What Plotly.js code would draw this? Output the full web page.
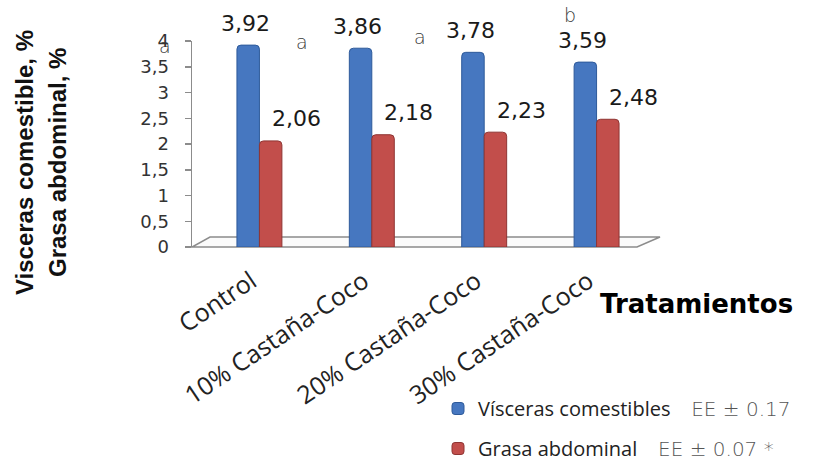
<!DOCTYPE html>
<html>
<head>
<meta charset="utf-8">
<script src="https://cdn.plot.ly/plotly-3.0.1.min.js"></script>
<style>
  html, body { margin: 0; padding: 0; background: #ffffff; }
  #chart { width: 835px; height: 461px; }
</style>
</head>
<body>
<div id="chart"></div>
<script>
// Treatments and measured values (%)
const categories = ['Control', '10% Castaña-Coco', '20% Castaña-Coco', '30% Castaña-Coco'];
const visceras = [3.92, 3.86, 3.78, 3.59];
const grasa = [2.06, 2.18, 2.23, 2.48];
const letters = ['a', 'a', 'a', 'b'];
const seriesNames = ['Vísceras comestibles', 'Grasa abdominal'];
const seriesEE = ['EE ± 0.17', 'EE ± 0.07 *'];
const yTicks = [0, 0.5, 1, 1.5, 2, 2.5, 3, 3.5, 4];

// Styling
const BLUE = '#4677C0';
const BLUE_EDGE = '#2E5A9A';
const RED = '#C24E4B';
const RED_EDGE = '#8F3533';

// Plot box in pixels: x 192..664, y 41..247
const L = 192, R = 664, T = 41, B = 247;
const px = v => (v - L) / (R - L);
const py = v => (B - v) / (B - T);

// Where each significance letter sits: shift from its group (px) and height on the page (px from top)
const letterPlacement = [
  { dx: -94, top: 46 },
  { dx: -70, top: 42 },
  { dx: -64, top: 37 },
  { dx: -27, top: 15 }
];

const fmt = v => v.toFixed(2).replace('.', ',');
const eeSpan = t => '&nbsp;&nbsp;&nbsp;&nbsp;<span style="font-family:\'DejaVu Sans\';font-weight:200;fill:#555">' + t + '</span>';

const traces = [
  {
    type: 'bar',
    x: categories,
    y: visceras,
    name: seriesNames[0] + eeSpan(seriesEE[0]),
    legendgroup: 'v',
    marker: { color: BLUE, line: { color: BLUE_EDGE, width: 1 }, cornerradius: 4 },
    hoverinfo: 'x+y'
  },
  {
    type: 'bar',
    x: categories,
    y: grasa,
    name: seriesNames[1] + eeSpan(seriesEE[1]),
    legendgroup: 'g',
    marker: { color: RED, line: { color: RED_EDGE, width: 1 }, cornerradius: 4 },
    hoverinfo: 'x+y'
  }
];

const annotations = [];
const labelFont = { family: 'DejaVu Sans', size: 22, color: '#1a1a1a' };

categories.forEach((c, i) => {
  annotations.push({
    x: c, y: visceras[i], xref: 'x', yref: 'y',
    text: fmt(visceras[i]), showarrow: false,
    xanchor: 'center', yanchor: 'middle', xshift: -14, yshift: 22,
    font: labelFont
  });
  annotations.push({
    x: c, y: grasa[i], xref: 'x', yref: 'y',
    text: fmt(grasa[i]), showarrow: false,
    xanchor: 'center', yanchor: 'middle', xshift: 37, yshift: 22,
    font: labelFont
  });
  annotations.push({
    x: c, y: py(letterPlacement[i].top), xref: 'x', yref: 'paper',
    text: letters[i], showarrow: false,
    xanchor: 'center', yanchor: 'middle', xshift: letterPlacement[i].dx,
    font: { family: 'DejaVu Sans', size: 19, color: '#3a3a3a', weight: 200 }
  });
});

// Axis titles
annotations.push({
  xref: 'paper', yref: 'paper', x: px(24), y: py(163),
  text: 'Visceras comestible, %', textangle: -90, showarrow: false,
  xanchor: 'center', yanchor: 'middle',
  font: { family: 'Liberation Sans', size: 24, color: '#111', weight: 'bold' }
});
annotations.push({
  xref: 'paper', yref: 'paper', x: px(57), y: py(163),
  text: 'Grasa abdominal, %', textangle: -90, showarrow: false,
  xanchor: 'center', yanchor: 'middle',
  font: { family: 'Liberation Sans', size: 24, color: '#111', weight: 'bold' }
});
annotations.push({
  xref: 'paper', yref: 'paper', x: px(696), y: py(304),
  text: 'Tratamientos', showarrow: false,
  xanchor: 'center', yanchor: 'middle',
  font: { family: 'DejaVu Sans', size: 26, color: '#000', weight: 'bold' }
});

// Floor of the pseudo-3D plot area
const floorPath =
  'M' + px(192) + ',' + py(247) +
  ' L' + px(637) + ',' + py(247) +
  ' L' + px(660) + ',' + py(237) +
  ' L' + px(210) + ',' + py(237) + ' Z';

const layout = {
  width: 835,
  height: 461,
  margin: { l: L, r: 835 - R, t: T, b: 461 - B, pad: 0, autoexpand: false },
  paper_bgcolor: '#ffffff',
  plot_bgcolor: 'rgba(0,0,0,0)',
  separators: ',.',
  barmode: 'group',
  bargap: 0.6,
  bargroupgap: 0,
  showlegend: true,
  legend: {
    xref: 'container', yref: 'container',
    x: 438 / 835, y: 1 - 389 / 461,
    xanchor: 'left', yanchor: 'top',
    orientation: 'v',
    traceorder: 'grouped',
    tracegroupgap: 11,
    bgcolor: 'rgba(0,0,0,0)',
    borderwidth: 0,
    font: { family: 'Open Sans', size: 20, color: '#222' }
  },
  xaxis: {
    type: 'category',
    range: [-0.6, 3.6],
    automargin: false,
    showline: false,
    showgrid: false,
    zeroline: false,
    ticks: '',
    tickangle: -34,
    ticklabelstandoff: 14,
    ticklabelshift: -8,
    tickfont: { family: 'Open Sans', size: 25, color: '#222' },
    fixedrange: true
  },
  yaxis: {
    range: [0, 4],
    automargin: false,
    tickvals: yTicks,
    ticks: 'outside',
    ticklen: 6,
    tickcolor: '#8c8c8c',
    tickwidth: 1.5,
    showline: true,
    linecolor: '#8c8c8c',
    linewidth: 1.5,
    showgrid: false,
    zeroline: false,
    ticklabelstandoff: 12,
    tickfont: { family: 'DejaVu Sans', size: 18, color: '#333' },
    fixedrange: true
  },
  shapes: [
    {
      type: 'path', xref: 'paper', yref: 'paper', path: floorPath,
      fillcolor: '#fbfbfb', line: { color: '#8c8c8c', width: 1.5 }, layer: 'below'
    }
  ],
  annotations: annotations
};

Plotly.newPlot('chart', traces, layout, { displayModeBar: false, staticPlot: true });
</script>
</body>
</html>
